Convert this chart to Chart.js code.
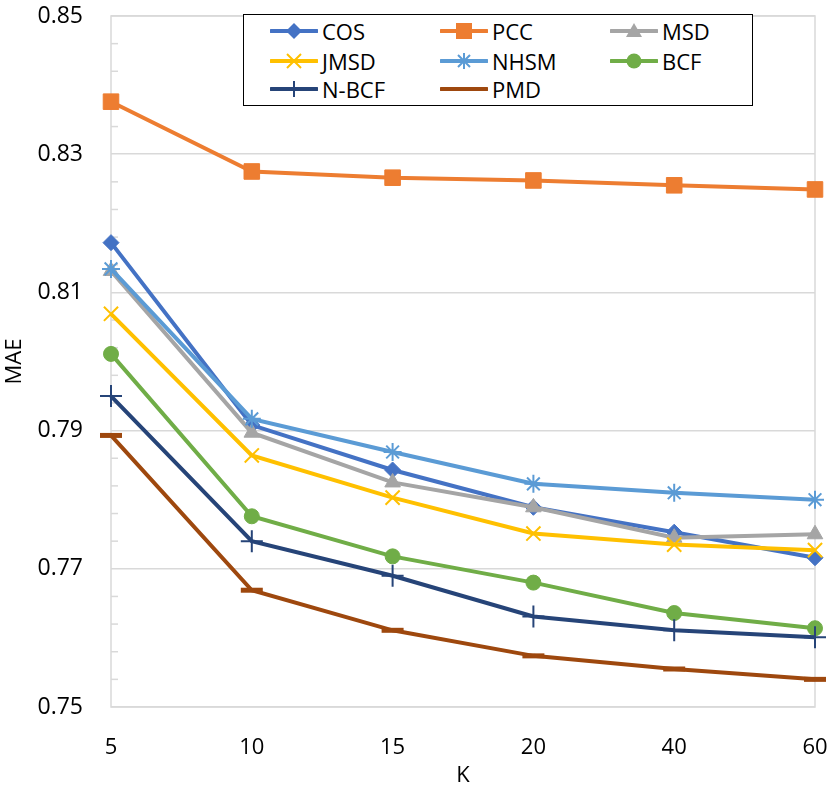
<!DOCTYPE html>
<html>
<head>
<meta charset="utf-8">
<script src="https://cdn.jsdelivr.net/npm/chart.js@4.4.1/dist/chart.umd.min.js"></script>
<style>
  body { margin: 0; background: #fff; }
  #wrap { position: relative; width: 831px; height: 791px; }
  #legend {
    position: absolute; left: 243px; top: 14px; width: 508px; height: 90px;
    border: 1.5px solid #000; background: #fff;
    font-family: "Open Sans", sans-serif; font-size: 22px; color: #000;
  }
  .item { position: absolute; display: flex; align-items: center; height: 30px; }
  .item svg { margin-right: 4px; }
</style>
</head>
<body>
<div id="wrap">
  <canvas id="maeChart" width="831" height="791"></canvas>
  <div id="legend"></div>
</div>
<script>
// K (neighbourhood size) on the x axis
const kLabels = ['5', '10', '15', '20', '40', '60'];

// MAE per similarity measure
const cosVals  = [0.8172, 0.7908, 0.7843, 0.7789, 0.7753, 0.7716];
const pccVals  = [0.8376, 0.8275, 0.8266, 0.8262, 0.8255, 0.8249];
const msdVals  = [0.8131, 0.7897, 0.7825, 0.7789, 0.7745, 0.7750];
const jmsdVals = [0.8069, 0.7864, 0.7803, 0.7751, 0.7735, 0.7727];
const nhsmVals = [0.8134, 0.7917, 0.7869, 0.7823, 0.7810, 0.7800];
const bcfVals  = [0.8011, 0.7776, 0.7718, 0.7680, 0.7636, 0.7614];
const nbcfVals = [0.7950, 0.7740, 0.7690, 0.7631, 0.7611, 0.7601];
const pmdVals  = [0.7893, 0.7669, 0.7611, 0.7574, 0.7555, 0.7540];

const seriesNames = ['COS', 'PCC', 'MSD', 'JMSD', 'NHSM', 'BCF', 'N-BCF', 'PMD'];
const seriesData = [cosVals, pccVals, msdVals, jmsdVals, nhsmVals, bcfVals, nbcfVals, pmdVals];

const colors = ['#4472C4', '#ED7D31', '#A5A5A5', '#FFC000', '#5B9BD5', '#70AD47', '#264478', '#9E480E'];
const styles = ['rectRot', 'rect', 'triangle', 'crossRot', 'star', 'circle', 'cross', 'line'];
const radii  = [8, 11, 9, 10, 9, 7.5, 11, 11];
const pBorder = [1, 1, 1, 2, 2, 1, 2, 5];

const FONT = '"Open Sans", sans-serif';

// light grey frame round the plot + small inner minor ticks on the y axis
const frame = {
    id: 'frame',
    beforeDatasetsDraw(chart) {
        const { ctx, chartArea: a } = chart;
        const y = chart.scales.y;
        ctx.save();
        ctx.strokeStyle = '#d9d9d9';
        ctx.lineWidth = 1.5;
        ctx.strokeRect(a.left, a.top, a.right - a.left, a.bottom - a.top);
        for (let i = 1; i < 25; i++) {
            if (i % 5 === 0) continue;
            const py = y.getPixelForValue(0.75 + i * 0.004);
            ctx.beginPath();
            ctx.moveTo(a.left, py);
            ctx.lineTo(a.left + 7, py);
            ctx.stroke();
        }
        ctx.restore();
    }
};

new Chart(document.getElementById('maeChart'), {
    type: 'line',
    data: {
        labels: kLabels,
        datasets: seriesNames.map((name, i) => ({
            label: name,
            data: seriesData[i],
            borderColor: colors[i],
            backgroundColor: colors[i],
            pointBackgroundColor: colors[i],
            pointBorderColor: colors[i],
            pointStyle: styles[i],
            pointRadius: radii[i],
            pointBorderWidth: pBorder[i],
            borderWidth: 4,
            tension: 0,
            clip: false,
            order: 10 - i
        }))
    },
    options: {
        responsive: false,
        animation: false,
        layout: { padding: { top: 14, right: 16, left: 0, bottom: 0 } },
        plugins: { legend: { display: false }, tooltip: { enabled: false } },
        scales: {
            x: {
                offset: false,
                grid: { display: false },
                border: { display: false },
                ticks: { color: '#000', font: { family: FONT, size: 22 }, padding: 20, maxRotation: 0 },
                title: { display: true, text: 'K', color: '#000', font: { family: FONT, size: 22 }, padding: { top: 0, bottom: 2 } },
                afterFit: (s) => { s.height = 84; s.paddingLeft = 0; s.paddingRight = 0; }
            },
            y: {
                min: 0.75,
                max: 0.85,
                ticks: {
                    stepSize: 0.02,
                    color: '#000',
                    font: { family: FONT, size: 23 },
                    padding: 28,
                    callback: (v) => v.toFixed(2)
                },
                grid: { color: '#d9d9d9', lineWidth: 1.5, drawTicks: false },
                border: { display: false },
                title: { display: true, text: 'MAE', color: '#000', font: { family: FONT, size: 22 }, padding: { top: 2, bottom: 0 } },
                afterFit: (s) => { s.width = 111; s.paddingTop = 0; s.paddingBottom = 0; }
            }
        }
    },
    plugins: [frame]
});

// legend in a 3-column grid, as in the original figure
function marker(style, color) {
    const c = 24, cy = 15;
    switch (style) {
        case 'rectRot': return `<polygon points="${c},${cy-8} ${c+8},${cy} ${c},${cy+8} ${c-8},${cy}" fill="${color}"/>`;
        case 'rect': return `<rect x="${c-8}" y="${cy-8}" width="16" height="16" fill="${color}"/>`;
        case 'triangle': return `<polygon points="${c},${cy-8} ${c+8},${cy+6} ${c-8},${cy+6}" fill="${color}"/>`;
        case 'crossRot': return `<path d="M${c-7},${cy-7}L${c+7},${cy+7}M${c-7},${cy+7}L${c+7},${cy-7}" stroke="${color}" stroke-width="2"/>`;
        case 'star': return `<path d="M${c-6},${cy-6}L${c+6},${cy+6}M${c-6},${cy+6}L${c+6},${cy-6}M${c},${cy-8}L${c},${cy+8}" stroke="${color}" stroke-width="2"/>`;
        case 'circle': return `<circle cx="${c}" cy="${cy}" r="7.5" fill="${color}"/>`;
        case 'cross': return `<path d="M${c},${cy-8}L${c},${cy+8}" stroke="${color}" stroke-width="2"/>`;
        default: return '';
    }
}
const legend = document.getElementById('legend');
const colX = [26, 196, 366];
const rowY = [1, 31, 59];
seriesNames.forEach((name, i) => {
    const el = document.createElement('div');
    el.className = 'item';
    el.style.left = colX[i % 3] + 'px';
    el.style.top = rowY[Math.floor(i / 3)] + 'px';
    el.innerHTML = `<svg width="48" height="30"><line x1="1" y1="15" x2="47" y2="15" stroke="${colors[i]}" stroke-width="4" stroke-linecap="round"/>${marker(styles[i], colors[i])}</svg><span>${name}</span>`;
    legend.appendChild(el);
});
</script>
</body>
</html>
